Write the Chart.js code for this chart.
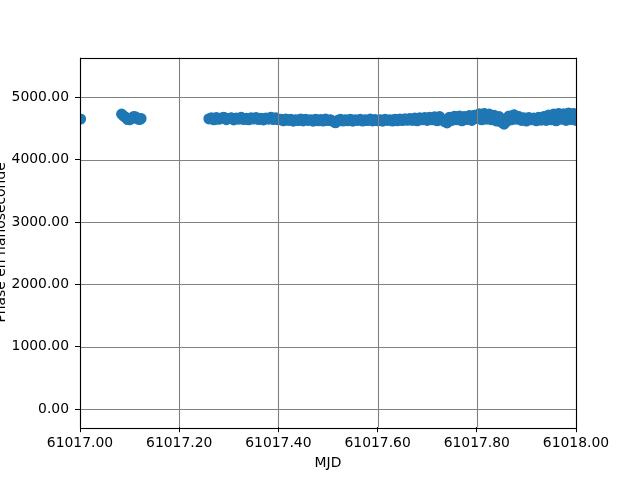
<!DOCTYPE html>
<html><head><meta charset="utf-8">
<script src="https://cdn.jsdelivr.net/npm/chart.js@4/dist/chart.umd.min.js"></script>
<style>html,body{margin:0;padding:0;background:#fff}#wrap{width:640px;height:480px}</style>
</head><body><div id="wrap"><canvas id="c" width="640" height="480"></canvas></div>
<script>
const mjd = [
61017.001,
61017.084,61017.088,61017.092,61017.096,61017.100,61017.104,61017.108,61017.112,61017.116,61017.120,61017.123,
61017.260,61017.265,61017.270,61017.275,61017.280,61017.285,61017.290,61017.295,61017.300,61017.305,
61017.310,61017.315,61017.320,61017.325,61017.330,61017.335,61017.340,61017.345,61017.350,61017.355,
61017.360,61017.365,61017.370,61017.375,61017.380,61017.385,61017.390,61017.395,61017.400,
61017.405,61017.410,61017.415,61017.420,61017.425,61017.430,61017.435,61017.440,61017.445,61017.450,
61017.455,61017.460,61017.465,61017.470,61017.475,61017.480,61017.485,61017.490,61017.495,61017.500,
61017.505,61017.510,61017.515,61017.520,61017.525,61017.530,61017.535,61017.540,61017.545,61017.550,
61017.555,61017.560,61017.565,61017.570,61017.575,61017.580,61017.585,61017.590,61017.595,61017.600,
61017.605,61017.610,61017.615,61017.620,61017.625,61017.630,61017.635,61017.640,61017.645,61017.650,
61017.655,61017.660,
61017.665,61017.670,61017.675,61017.680,61017.685,61017.690,61017.695,61017.700,61017.705,61017.710,
61017.715,61017.720,61017.725,61017.730,61017.735,61017.740,61017.745,61017.750,61017.755,61017.760,
61017.765,61017.770,61017.775,61017.780,61017.785,61017.790,61017.795,61017.800,61017.805,61017.810,
61017.815,61017.820,61017.825,61017.830,61017.835,61017.840,61017.845,61017.850,61017.855,61017.860,
61017.865,61017.870,
61017.875,61017.880,61017.885,61017.890,61017.895,61017.900,61017.905,61017.910,61017.915,61017.920,
61017.925,61017.930,61017.935,61017.940,
61017.945,61017.950,61017.955,61017.960,61017.965,61017.970,61017.975,61017.980,61017.985,61017.990,
61017.995,61018.000
];
const phase = [
4652,
4730,4700,4680,4645,4640,4660,4690,4685,4655,4645,4660,
4655,4670,4640,4675,4648,4665,4680,4642,4660,4672,
4638,4666,4650,4678,4645,4662,4640,4670,4652,4675,
4644,4662,4638,4668,4650,4680,4645,4670,4640,
4648,4625,4650,4630,4645,4618,4640,4628,4652,4622,
4645,4630,4640,4618,4648,4625,4642,4620,4650,4628,
4640,4615,4592,4630,4645,4620,4640,4625,4648,4618,
4638,4630,4645,4620,4640,4628,4650,4622,4642,4625,
4640,4618,4645,4630,4640,4620,4648,4625,4650,4628,
4655,4632,
4660,4630,4665,4625,4670,4640,4675,4630,4680,4640,
4685,4625,4690,4640,4610,4590,4680,4630,4695,4640,
4700,4625,4690,4645,4705,4630,4710,4660,4735,4640,
4740,4650,4730,4640,4710,4620,4690,4600,4570,4610,
4700,4640,
4720,4650,4690,4630,4670,4620,4675,4640,4668,4625,
4680,4635,4690,4630,
4715,4640,4730,4625,4740,4650,4735,4630,4745,4645,
4740,4630
];
const xTicks = [61017.0, 61017.2, 61017.4, 61017.6, 61017.8, 61018.0];
const yTicks = [0, 1000, 2000, 3000, 4000, 5000];
const xLabel = 'MJD';
const yLabel = 'Phase en nanoseconde';

const FONT = '"DejaVu Sans", sans-serif';
const points = mjd.map((m, i) => ({x: m, y: phase[i]}));

const overlay = {
  id: 'overlay',
  afterDatasetsDraw(chart) {
    const {ctx, chartArea: a, scales: {x, y}} = chart;
    ctx.save();
    ctx.strokeStyle = '#808080';
    ctx.lineWidth = 1.1;
    ctx.beginPath();
    xTicks.forEach(v => { const p = Math.round(x.getPixelForValue(v)) + 0.5; ctx.moveTo(p, a.top); ctx.lineTo(p, a.bottom); });
    yTicks.forEach(v => { const p = Math.round(y.getPixelForValue(v)) + 0.5; ctx.moveTo(a.left, p); ctx.lineTo(a.right, p); });
    ctx.stroke();
    ctx.strokeStyle = '#000';
    ctx.lineWidth = 1.1;
    ctx.strokeRect(Math.round(a.left) + 0.5, Math.round(a.top) + 0.5, Math.round(a.right - a.left), Math.round(a.bottom - a.top));
    ctx.fillStyle = '#000';
    ctx.font = '13.9px ' + FONT;
    ctx.textAlign = 'center';
    ctx.textBaseline = 'alphabetic';
    ctx.fillText(xLabel, (a.left + a.right) / 2, 467);
    ctx.translate(5, (a.top + a.bottom) / 2);
    ctx.rotate(-Math.PI / 2);
    ctx.fillText(yLabel, 0, 0);
    ctx.restore();
  }
};

new Chart(document.getElementById('c'), {
  type: 'scatter',
  data: {
    datasets: [{
      data: points,
      backgroundColor: '#1f77b4',
      borderColor: '#1f77b4',
      borderWidth: 1.4,
      pointRadius: 4.9,
      pointHoverRadius: 4.9,
      clip: 0
    }]
  },
  options: {
    responsive: false,
    animation: false,
    devicePixelRatio: 1,
    layout: {padding: {left: 0, top: 57.6, right: 64, bottom: 0}},
    plugins: {legend: {display: false}, tooltip: {enabled: false}},
    scales: {
      x: {
        type: 'linear',
        min: 61017, max: 61018,
        afterBuildTicks: s => { s.ticks = xTicks.map(v => ({value: v})); },
        afterFit: s => { s.height = 52.8; },
        grid: {drawOnChartArea: false, tickColor: '#000', tickLength: 5, tickWidth: 1},
        border: {display: false},
        ticks: {color: '#000', font: {family: FONT, size: 13.9}, padding: 3, maxRotation: 0, autoSkip: false,
          callback: v => Number(v).toFixed(2)}
      },
      y: {
        type: 'linear',
        min: -287, max: 5636,
        afterBuildTicks: s => { s.ticks = yTicks.map(v => ({value: v})); },
        afterFit: s => { s.width = 80; },
        grid: {drawOnChartArea: false, tickColor: '#000', tickLength: 5, tickWidth: 1},
        border: {display: false},
        ticks: {color: '#000', font: {family: FONT, size: 13.9}, padding: 6, autoSkip: false,
          callback: v => Number(v).toFixed(2)}
      }
    }
  },
  plugins: [overlay]
});
</script>
</body></html>
